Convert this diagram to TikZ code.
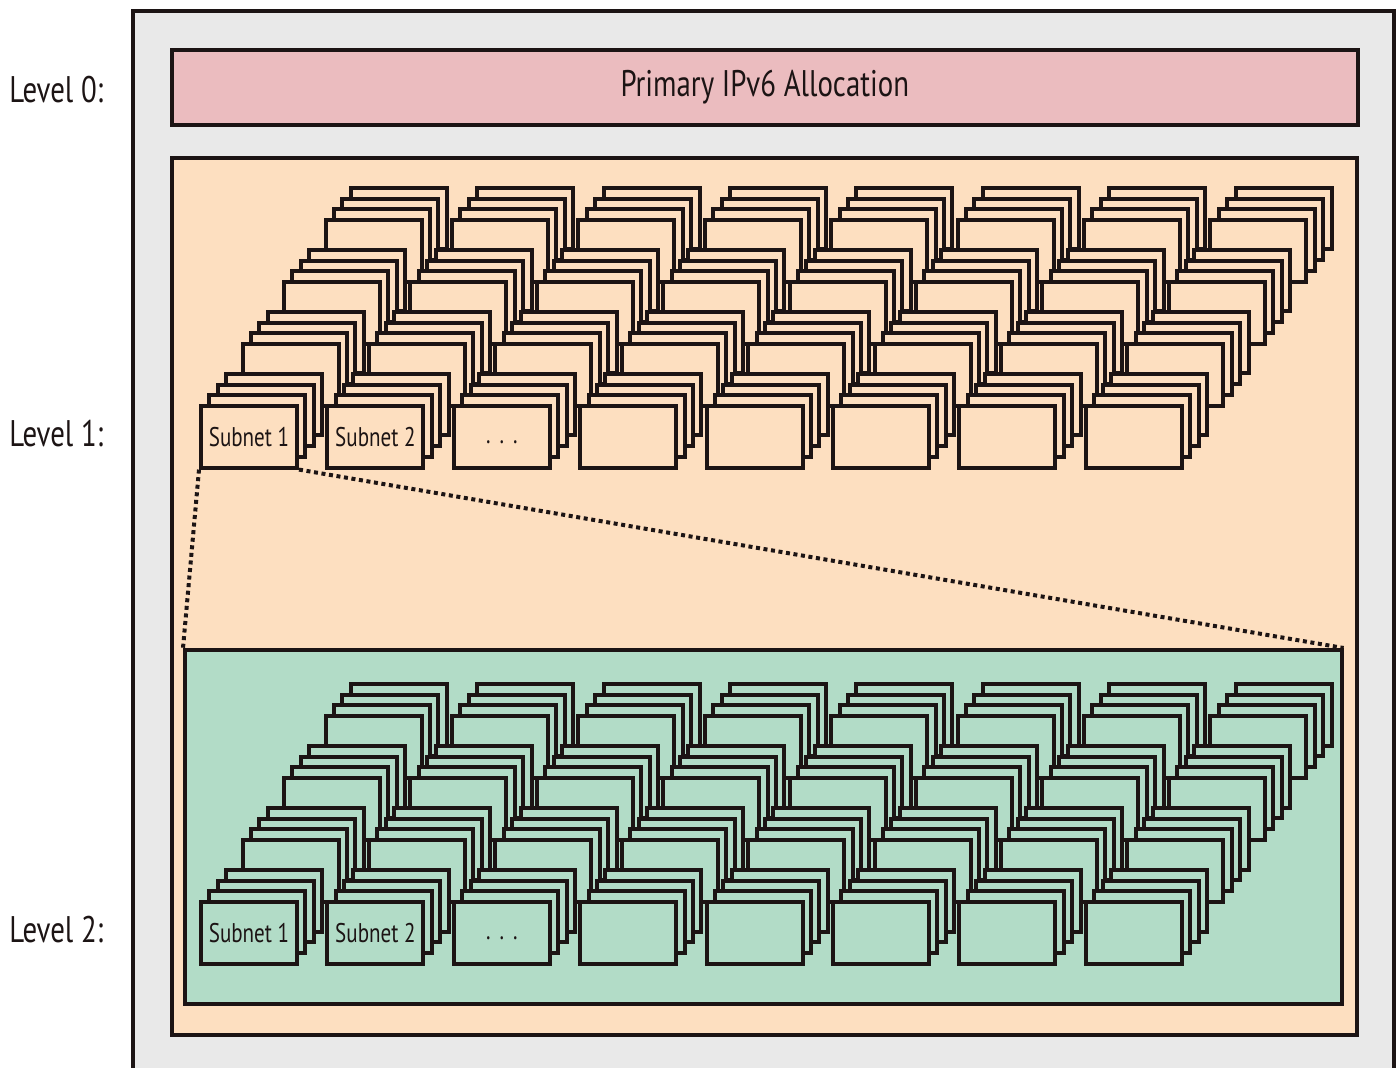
\documentclass[tikz,border=0pt]{standalone}
\usepackage{fontspec}
\setmainfont{PT Sans}[FakeStretch=0.78]
\definecolor{ink}{HTML}{1C1414}
\definecolor{frame}{HTML}{E9E9E9}
\definecolor{rose}{HTML}{EBBCBF}
\definecolor{peach}{HTML}{FDDFC0}
\definecolor{mint}{HTML}{B2DCC7}
\begin{document}
\begin{tikzpicture}[x=0.5pt,y=-0.5pt,
  panel/.style={draw=ink, line width=1.8pt, anchor=north west, inner sep=0pt},
  cell/.style={draw=ink, fill=#1, line width=2pt, line join=miter,
    minimum width=48pt, minimum height=30.8pt, anchor=north west, inner sep=0pt},
  celltext/.style={text=ink, font=\fontsize{13.5}{15}\selectfont},
  level/.style={text=ink, anchor=west, inner sep=0pt, font=\fontsize{18.5}{20}\selectfont},
  zoomline/.style={draw=ink, line width=2pt, dash pattern=on 2pt off 1.8pt}]
\clip (0,0) rectangle (1400,1068);

% outer frame and the three level panels
\node[panel, fill=frame, minimum width=630.5pt, minimum height=545pt] (outer) at (131,9) {};
\node[panel, fill=rose, minimum width=593pt, minimum height=37.5pt] (top) at (170,48) {};
\node[celltext, font=\fontsize{18.5}{20}\selectfont] at (top.center) {Primary IPv6 Allocation};
\node[panel, fill=peach, minimum width=592.5pt, minimum height=438.5pt] (mid) at (170,156) {};

% level 1 grid: 4 rows x 8 columns of stacks, 4 boxes per stack
\foreach \r in {3,2,1,0}{
  \foreach \c in {0,...,7}{
    \foreach \k in {3,2,1}
      \node[cell=peach] at ({199+126.4*\c+41.5*\r+8.4*\k},{404-62*\r-10.7*\k}) {};
    \node[cell=peach] (a-\r-\c) at ({199+126.4*\c+41.5*\r},{404-62*\r}) {};
  }
}
\node[celltext] at (a-0-0) {Subnet 1};
\node[celltext] at (a-0-1) {Subnet 2};
\node[celltext, yshift=-2.5pt] at (a-0-2) {.\,\,.\,\,.};

% level 2 panel and grid
\node[panel, fill=mint, minimum width=578.5pt, minimum height=177pt] (low) at (183,648) {};
\foreach \r in {3,2,1,0}{
  \foreach \c in {0,...,7}{
    \foreach \k in {3,2,1}
      \node[cell=mint] at ({199+126.4*\c+41.5*\r+8.4*\k},{900-62*\r-10.7*\k}) {};
    \node[cell=mint] (b-\r-\c) at ({199+126.4*\c+41.5*\r},{900-62*\r}) {};
  }
}
\node[celltext] at (b-0-0) {Subnet 1};
\node[celltext] at (b-0-1) {Subnet 2};
\node[celltext, yshift=-2.5pt] at (b-0-2) {.\,\,.\,\,.};

% zoom lines from the first level-1 subnet to the level-2 panel
\draw[zoomline] (a-0-0.south west) -- (low.north west);
\draw[zoomline] (a-0-0.south east) -- (low.north east);

% level captions
\node[level] (l0) at (9,90) {Level 0:};
\node[level] (l1) at (9,434) {Level 1:};
\node[level] (l2) at (9,930) {Level 2:};
\end{tikzpicture}
\end{document}
